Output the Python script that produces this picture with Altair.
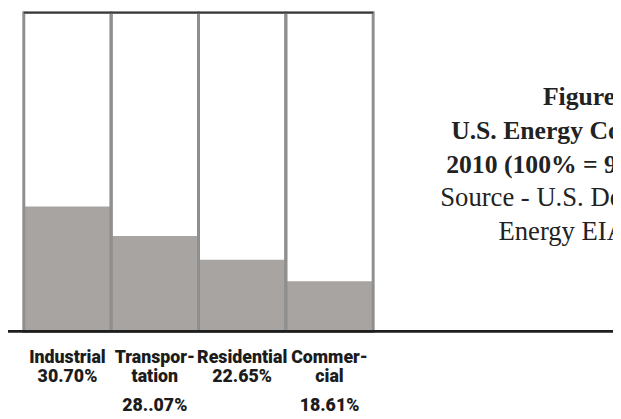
import altair as alt
import pandas as pd

# ---- data ----
categories = ["Industrial", "Transportation", "Residential", "Commercial"]
# filled share of each column (percent of the column height)
bar_heights = [39.2, 29.9, 22.5, 15.7]
label_line1 = ["Industrial", "Transpor-", "Residential", "Commer-"]
label_line2 = ["30.70%", "tation", "22.65%", "cial"]
label_line3 = ["", "28..07%", "", "18.61%"]
title_lines = ["Figure 1", "U.S. Energy Consumption", "2010 (100% = 98 Quads)",
               "Source - U.S. Department of", "Energy EIA"]
title_bold = [True, True, True, False, False]

# ---- layout (style, not data) ----
PLOT_W, PLOT_H = 354, 323
PAD = {"left": 16, "top": 2, "right": 613 - 16 - 354, "bottom": 406 - 2 - 323}
# plot-area pixel positions of the (cropped) caption lines
title_x = [526, 433, 428, 422, 481]
title_y = [94, 128, 162, 196, 230]
title_size = [26, 26, 26, 27, 27]
LABEL_FONT = "Roboto, Liberation Sans Narrow, Arial Narrow, sans-serif"
TITLE_FONT = "Liberation Serif, DejaVu Serif, serif"

df = pd.DataFrame({
    "category": categories,
    "share": bar_heights,
    "l1": label_line1,
    "l2": label_line2,
    "l3": label_line3,
})

x = alt.X("category:N", sort=categories, axis=None,
          scale=alt.Scale(paddingInner=0, paddingOuter=0))
yscale = alt.Scale(domain=[0, 100], nice=False, zero=True)

base = alt.Chart(df)

boxes = base.mark_bar(fill="white").encode(
    x=x, y=alt.datum(100, scale=yscale, axis=None), y2=alt.datum(0))

fills = base.mark_bar(fill="#a8a4a1").encode(
    x=x, y=alt.Y("share:Q", scale=yscale, axis=None))

outlines = base.mark_bar(fillOpacity=0, stroke="#8f8f8f", strokeWidth=3).encode(
    x=x, y=alt.datum(100, scale=yscale, axis=None), y2=alt.datum(0))

top_rule = alt.Chart(pd.DataFrame({"level": [100]})).mark_rule(
    color="#3a3a3a", strokeWidth=2).encode(
    x=alt.value(0), x2=alt.value(PLOT_W),
    y=alt.Y("level:Q", scale=yscale, axis=None))

baseline = alt.Chart(pd.DataFrame({"level": [0]})).mark_rule(
    color="#1f1f1f", strokeWidth=2.6).encode(
    x=alt.value(-16), x2=alt.value(597),
    y=alt.Y("level:Q", scale=yscale, axis=None))

def label_layer(field, ypix):
    return base.mark_text(font=LABEL_FONT, fontSize=18, fontWeight=900,
                          color="#1c1c1c", baseline="alphabetic",
                          align="center").encode(
        x=x, y=alt.value(ypix), text=f"{field}:N")

labels = [label_layer("l1", 355), label_layer("l2", 374), label_layer("l3", 404)]

titles = []
for line, bold, tx, ty, fs in zip(title_lines, title_bold, title_x, title_y, title_size):
    titles.append(
        alt.Chart(pd.DataFrame({"t": [line]})).mark_text(
            font=TITLE_FONT, fontSize=fs,
            fontWeight="bold" if bold else "normal",
            color="#222222", align="left", baseline="alphabetic").encode(
            x=alt.value(tx), y=alt.value(ty), text="t:N"))

chart = alt.layer(boxes, fills, outlines, top_rule, baseline, *labels, *titles).properties(
    width=PLOT_W, height=PLOT_H,
    autosize=alt.AutoSizeParams(type="none"),
    padding=PAD,
).configure_view(stroke=None)

chart.save("out.html", embed_options={"renderer": "svg", "actions": False})
